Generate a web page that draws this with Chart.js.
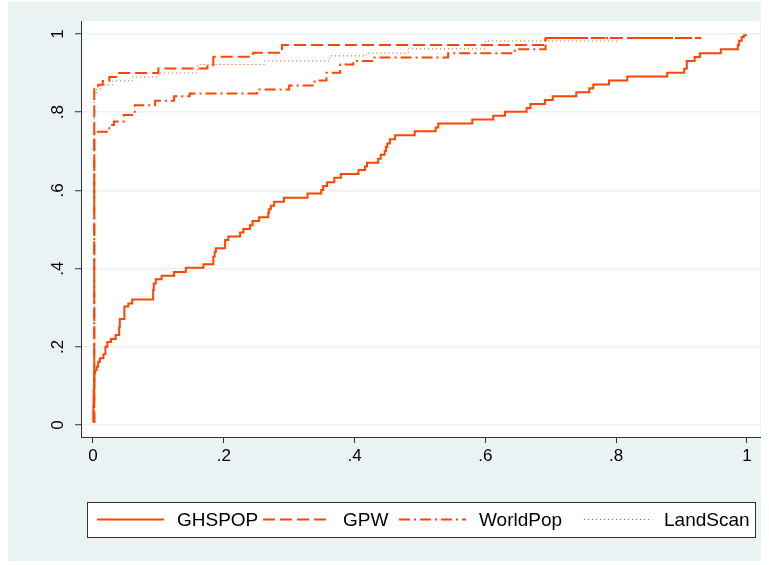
<!DOCTYPE html>
<html>
<head>
<meta charset="utf-8">
<script src="https://cdn.jsdelivr.net/npm/chart.js@4.4.1/dist/chart.umd.min.js"></script>
<style>
html, body { margin: 0; padding: 0; background: #fff; }
#wrap { position: relative; width: 769px; height: 565px; }
</style>
</head>
<body>
<div id="wrap"><canvas id="cdfChart" width="769" height="565"></canvas></div>
<script>
// series: x where each level starts, and the level (cumulative share)
const seriesNames = ['GHSPOP', 'GPW', 'WorldPop', 'LandScan'];

const ghsX = [0, 0.0005, 0.001, 0.002, 0.003, 0.0056, 0.008, 0.0107, 0.016, 0.019, 0.022, 0.0275, 0.0347, 0.040, 0.041,
  0.048, 0.054, 0.060, 0.092, 0.093, 0.096, 0.105, 0.124, 0.142, 0.169, 0.184, 0.186, 0.188, 0.202, 0.207, 0.225,
  0.230, 0.240, 0.244, 0.254, 0.268, 0.269, 0.272, 0.277, 0.292, 0.328, 0.349, 0.352, 0.358, 0.369, 0.379, 0.406,
  0.416, 0.419, 0.436, 0.440, 0.446, 0.448, 0.450, 0.454, 0.462, 0.492, 0.524, 0.528, 0.580, 0.612, 0.630, 0.663,
  0.669, 0.691, 0.703, 0.739, 0.759, 0.765, 0.789, 0.817, 0.878, 0.904, 0.908, 0.920, 0.928, 0.960, 0.986, 0.988,
  0.992, 0.995, 0.998];
const ghsY = [0.008, 0.05, 0.09, 0.132, 0.14, 0.149, 0.162, 0.171, 0.181, 0.200, 0.212, 0.220, 0.230, 0.25, 0.271,
  0.303, 0.311, 0.321, 0.345, 0.362, 0.373, 0.382, 0.391, 0.402, 0.411, 0.43, 0.443, 0.452, 0.473, 0.482, 0.492,
  0.501, 0.511, 0.522, 0.531, 0.542, 0.552, 0.561, 0.571, 0.581, 0.592, 0.601, 0.611, 0.621, 0.632, 0.642, 0.652,
  0.661, 0.671, 0.681, 0.691, 0.701, 0.711, 0.720, 0.731, 0.741, 0.751, 0.761, 0.771, 0.781, 0.791, 0.801, 0.811,
  0.821, 0.831, 0.841, 0.851, 0.861, 0.871, 0.881, 0.891, 0.901, 0.911, 0.931, 0.941, 0.951, 0.961, 0.972, 0.983,
  0.992, 0.996, 1.0];

const gpwX = [0, 0.002, 0.008, 0.015, 0.025, 0.040, 0.100, 0.175, 0.184, 0.245, 0.289, 0.692, 0.928];
const gpwY = [0.008, 0.86, 0.87, 0.88, 0.89, 0.90, 0.912, 0.92, 0.942, 0.952, 0.972, 0.99, 0.99];

const wpX = [0, 0.002, 0.025, 0.032, 0.047, 0.064, 0.095, 0.124, 0.148, 0.251, 0.300, 0.339, 0.357, 0.378, 0.398,
  0.429, 0.543, 0.645, 0.692, 0.930];
const wpY = [0.008, 0.75, 0.767, 0.776, 0.793, 0.818, 0.829, 0.841, 0.848, 0.858, 0.868, 0.881, 0.901, 0.922, 0.931,
  0.940, 0.951, 0.961, 0.99, 0.99];

const lsX = [0, 0.002, 0.006, 0.012, 0.030, 0.060, 0.100, 0.160, 0.262, 0.362, 0.418, 0.482, 0.600, 0.806];
const lsY = [0.008, 0.85, 0.86, 0.87, 0.88, 0.89, 0.90, 0.922, 0.931, 0.944, 0.951, 0.962, 0.982, 0.982];

const xTicks = [0, 0.2, 0.4, 0.6, 0.8, 1];
const yTicks = [0, 0.2, 0.4, 0.6, 0.8, 1];

const lineColor = '#ff4500';
const fontFamily = "'Liberation Sans', Arial, sans-serif";

function toPoints(xs, ys) {
    return xs.map((x, i) => ({ x: x, y: ys[i] }));
}

// Stata style labels: 0 .2 .4 ... 1
function stataLabel(v) {
    if (v === 0) return '0';
    if (v === 1) return '1';
    return String(+v.toFixed(2)).replace(/^0\./, '.');
}

const bgPlugin = {
    id: 'stataBg',
    beforeDraw(chart) {
        const ctx = chart.ctx;
        const a = chart.chartArea;
        ctx.save();
        ctx.fillStyle = '#ffffff';
        ctx.fillRect(0, 0, chart.width, chart.height);
        ctx.fillStyle = '#eaf2f3';
        ctx.fillRect(8, 2, chart.width - 16, chart.height - 6);
        ctx.fillStyle = '#ffffff';
        ctx.fillRect(a.left, a.top, a.right - a.left, a.bottom - a.top);
        ctx.restore();
    }
};

// vertical y tick labels, like Stata
const yLabelPlugin = {
    id: 'yLabels',
    afterDraw(chart) {
        const ctx = chart.ctx;
        const scale = chart.scales.y;
        ctx.save();
        ctx.fillStyle = '#000';
        ctx.font = '17px ' + fontFamily;
        ctx.textAlign = 'center';
        ctx.textBaseline = 'middle';
        scale.ticks.forEach(t => {
            const y = scale.getPixelForValue(t.value);
            ctx.save();
            ctx.translate(scale.right - 23, y);
            ctx.rotate(-Math.PI / 2);
            ctx.fillText(stataLabel(t.value), 0, 0);
            ctx.restore();
        });
        ctx.restore();
    }
};

// boxed legend below the plot
const legendPlugin = {
    id: 'boxLegend',
    afterDraw(chart) {
        const ctx = chart.ctx;
        const box = { left: 87, top: 502, width: 668, height: 35 };
        const cols = [97, 263, 399, 584];
        const sample = 67;
        const midY = box.top + box.height / 2;
        ctx.save();
        ctx.fillStyle = '#ffffff';
        ctx.fillRect(box.left, box.top, box.width, box.height);
        ctx.strokeStyle = '#333';
        ctx.lineWidth = 1;
        ctx.strokeRect(box.left + 0.5, box.top + 0.5, box.width, box.height);
        chart.data.datasets.forEach((ds, i) => {
            const x = cols[i];
            ctx.save();
            ctx.strokeStyle = ds.borderColor;
            ctx.lineWidth = ds.borderWidth;
            ctx.setLineDash(ds.borderDash || []);
            ctx.beginPath();
            ctx.moveTo(x, midY);
            ctx.lineTo(x + sample, midY);
            ctx.stroke();
            ctx.restore();
            ctx.fillStyle = '#000';
            ctx.font = '19px ' + fontFamily;
            ctx.textAlign = 'left';
            ctx.textBaseline = 'middle';
            ctx.fillText(ds.label, x + sample + 13, midY + 1);
        });
        ctx.restore();
    }
};

const ctx = document.getElementById('cdfChart').getContext('2d');
new Chart(ctx, {
    type: 'scatter',
    data: {
        datasets: [{
            label: seriesNames[0],
            data: toPoints(ghsX, ghsY),
            borderColor: lineColor,
            borderWidth: 2,
            borderDash: []
        }, {
            label: seriesNames[1],
            data: toPoints(gpwX, gpwY),
            borderColor: lineColor,
            borderWidth: 2,
            borderDash: [12, 5]
        }, {
            label: seriesNames[2],
            data: toPoints(wpX, wpY),
            borderColor: lineColor,
            borderWidth: 2,
            borderDash: [11, 4, 2, 4]
        }, {
            label: seriesNames[3],
            data: toPoints(lsX, lsY),
            borderColor: lineColor,
            borderWidth: 1,
            borderDash: [1, 3]
        }].map(ds => Object.assign(ds, {
            showLine: true,
            stepped: 'before',
            pointRadius: 0,
            pointHoverRadius: 0,
            fill: false,
            borderCapStyle: 'butt'
        }))
    },
    options: {
        responsive: false,
        animation: false,
        devicePixelRatio: 1,
        layout: { padding: { left: 0, top: 21, right: 9, bottom: 0 } },
        plugins: {
            legend: { display: false },
            tooltip: { enabled: false }
        },
        scales: {
            x: {
                type: 'linear',
                min: -0.0183,
                max: 1.0199,
                afterBuildTicks: s => { s.ticks = xTicks.map(v => ({ value: v })); },
                afterFit: s => { s.height = 128; },
                ticks: {
                    callback: v => stataLabel(v),
                    color: '#000',
                    font: { family: fontFamily, size: 17 },
                    padding: 3,
                    maxRotation: 0,
                    autoSkip: false
                },
                grid: { drawOnChartArea: false, tickLength: 6, tickColor: '#333', tickWidth: 1 },
                border: { color: '#333', width: 1 }
            },
            y: {
                type: 'linear',
                min: -0.0307,
                max: 1.0332,
                afterBuildTicks: s => { s.ticks = yTicks.map(v => ({ value: v })); },
                afterFit: s => { s.width = 81; },
                ticks: { display: false },
                grid: { color: '#eaf2f3', lineWidth: 1.5, tickLength: 6, tickColor: '#333', tickWidth: 1 },
                border: { color: '#333', width: 1 }
            }
        }
    },
    plugins: [bgPlugin, yLabelPlugin, legendPlugin]
});
</script>
</body>
</html>
